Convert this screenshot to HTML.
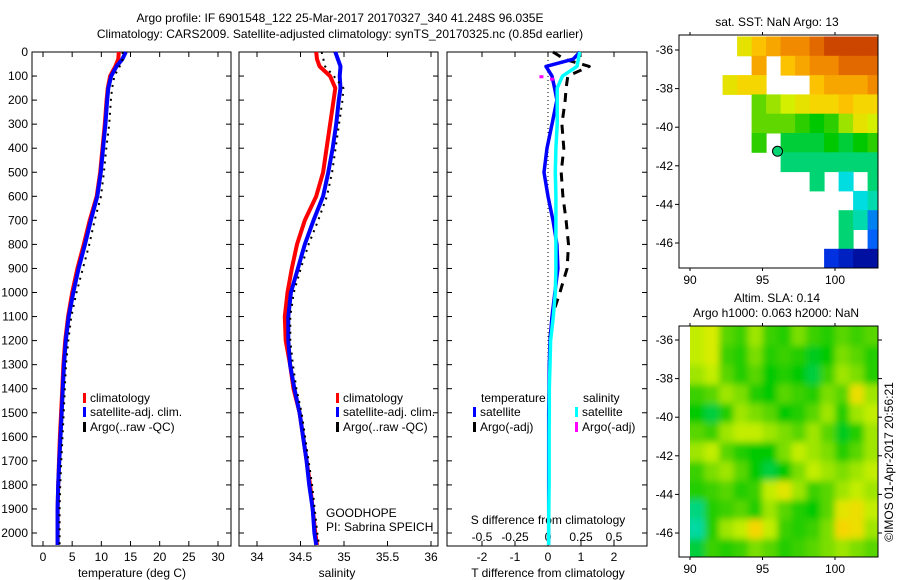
<!DOCTYPE html>
<html><head><meta charset="utf-8">
<style>
html,body{margin:0;padding:0;background:#fff;}
svg{display:block;font-family:"Liberation Sans",sans-serif;}
text{font-size:12px;fill:#000;}
</style></head>
<body>
<svg id="fig" width="900" height="580" viewBox="0 0 900 580">
<defs>
<clipPath id="clipSla"><rect x="690" y="326" width="188" height="231"/></clipPath>
<filter id="blur" x="-5%" y="-5%" width="110%" height="110%"><feGaussianBlur stdDeviation="3.5"/></filter>
</defs>
<text x="340" y="22" text-anchor="middle">Argo profile: IF 6901548_122 25-Mar-2017 20170327_340 41.248S 96.035E</text>
<text x="340" y="38" text-anchor="middle">Climatology: CARS2009. Satellite-adjusted climatology: synTS_20170325.nc (0.85d earlier)</text>
<g id="g"></g>
</svg>
<script>
// ---------- data ----------
const depths = [0,30,60,100,150,200,300,400,500,600,700,800,900,1000,1100,1200,1300,1400,1500,1600,1700,1800,1900,2000,2050];
const tempClim = [13.0,12.9,12.4,11.5,11.1,10.9,10.6,10.2,9.8,9.2,8.0,7.0,5.9,5.0,4.3,3.8,3.5,3.3,3.1,2.9,2.75,2.6,2.5,2.5,2.5];
const tempSat  = [14.2,13.6,12.6,11.7,11.2,11.0,10.7,10.3,9.9,9.3,8.2,7.2,6.1,5.2,4.4,3.9,3.6,3.4,3.2,3.0,2.8,2.6,2.5,2.5,2.5];
const tempArgo = [13.3,13.3,12.8,11.9,11.5,11.3,11.0,10.5,10.1,9.6,8.5,7.6,6.5,5.4,4.5,4.0,3.6,3.4,3.2,3.0,2.8,2.6,2.5,2.5,2.5];
const salClim = [34.68,34.69,34.72,34.84,34.90,34.88,34.84,34.80,34.76,34.68,34.55,34.46,34.40,34.35,34.32,34.33,34.38,34.42,34.49,34.53,34.57,34.61,34.64,34.67,34.69];
const salSat  = [34.90,34.93,34.96,34.95,34.96,34.94,34.91,34.87,34.82,34.76,34.65,34.55,34.47,34.39,34.36,34.36,34.38,34.43,34.49,34.53,34.57,34.60,34.64,34.66,34.68];
const salArgo = [34.72,34.74,34.76,34.86,34.97,34.96,34.92,34.88,34.84,34.78,34.68,34.57,34.48,34.40,34.36,34.36,34.39,34.43,34.49,34.53,34.57,34.61,34.64,34.67,34.69];
const tDiffSat  = [0.97,0.76,-0.06,0.12,0.20,0.27,0.12,-0.03,-0.12,0.0,0.15,0.27,0.30,0.21,0.12,0.06,0.04,0.03,0.02,0.02,0.02,0.02,0.02,0.02,0.02];
const tDiffArgo = [0.15,0.50,1.25,0.60,0.55,0.52,0.42,0.48,0.40,0.45,0.55,0.62,0.58,0.36,0.12,0.05,0.04,0.03,0.03,0.03,0.03,0.03,0.03,0.03,0.03];
const sDiffSat  = [0.24,0.23,0.22,0.11,0.07,0.07,0.07,0.06,0.055,0.06,0.06,0.06,0.06,0.055,0.04,0.02,0.015,0.01,0.01,0.008,0.008,0.008,0.006,0.005,0.005];
const sDiffArgoDepths = [105,115];
const sDiffArgo = [-0.05,0.03];
const depthTicks = [0,100,200,300,400,500,600,700,800,900,1000,1100,1200,1300,1400,1500,1600,1700,1800,1900,2000];
const tempTicks = [0,5,10,15,20,25,30];
const salTicks = [34,34.5,35,35.5,36];
const salTickLabels = ["34","34.5","35","35.5","36"];
const tdTicks = [-2,-1,0,1,2];
const sdTicks = [-0.5,-0.25,0,0.25,0.5];
const sdTickLabels = ["-0.5","-0.25","0","0.25","0.5"];
// SST map: rows from lat -35.3 downward (1 deg), cols from lon 89.25 (1 deg)
const sstGrid = [
 [null,null,null,null,17,18,18.5,19,19,19.5,20,20,20,20],
 [null,null,null,null,null,18.5,null,18,18.5,19,19,19.5,19.5,19.5],
 [null,null,null,17,17.5,17.5,null,null,null,18,18.5,18.5,18.5,19],
 [null,null,null,null,null,15.5,16,16.5,17,17.5,17.5,18,17.5,17.5],
 [null,null,null,null,null,15.5,15.5,15.5,15,14.5,15,16,17,16.5],
 [null,null,null,null,null,15,null,14,14,14,14.5,14,14.5,15],
 [null,null,null,null,null,null,null,13.5,13.5,13.5,13.5,13.5,13.5,13.5],
 [null,null,null,null,null,null,null,null,null,13.5,null,12.5,null,13.5],
 [null,null,null,null,null,null,null,null,null,null,null,null,12.5,13],
 [null,null,null,null,null,null,null,null,null,null,null,13.5,13,11],
 [null,null,null,null,null,null,null,null,null,null,null,13.5,null,10.5],
 [null,null,null,null,null,null,null,null,null,null,9.5,9,8.5,8.5]
];
const argoLon = 96.035, argoLat = -41.248, argoSST = 13.5;
// SLA map: rows from lat -35.3 (1 deg), cols from lon 90 (1 deg)
const slaGrid = [
 [0.6,0.65,0.45,0.4,0.55,0.4,0.35,0.5,0.4,0.35,0.45,0.4,0.45],
 [0.6,0.65,0.4,0.35,0.5,0.35,0.4,0.35,0.25,0.3,0.5,0.45,0.35],
 [0.55,0.6,0.45,0.35,0.45,0.3,0.35,0.3,0.2,0.4,0.55,0.5,0.35],
 [0.4,0.45,0.55,0.5,0.35,0.3,0.45,0.4,0.35,0.5,0.45,0.75,0.55],
 [0.3,0.2,0.35,0.55,0.5,0.45,0.3,0.35,0.45,0.55,0.35,0.55,0.6],
 [0.45,0.4,0.55,0.6,0.6,0.55,0.5,0.45,0.55,0.45,0.25,0.35,0.55],
 [0.55,0.6,0.45,0.35,0.3,0.3,0.5,0.6,0.55,0.5,0.35,0.45,0.55],
 [0.4,0.5,0.55,0.45,0.3,0.2,0.3,0.5,0.6,0.55,0.5,0.55,0.6],
 [0.35,0.4,0.45,0.35,0.4,0.6,0.7,0.55,0.4,0.45,0.55,0.6,0.55],
 [0.1,0.35,0.4,0.45,0.35,0.55,0.45,0.35,0.3,0.45,0.7,0.75,0.6],
 [0.05,0.35,0.55,0.6,0.8,0.6,0.4,0.35,0.4,0.5,0.8,0.75,0.55],
 [0.2,0.4,0.35,0.4,0.5,0.45,0.35,0.4,0.45,0.5,0.55,0.5,0.45]
];
const lonTicks = [90,95,100];
const latTicks = [-36,-38,-40,-42,-44,-46];

// ---------- helpers ----------
const NS="http://www.w3.org/2000/svg";
const G=document.getElementById('g');
function mk(tag,attrs,parent){const e=document.createElementNS(NS,tag);for(const k in attrs)e.setAttribute(k,attrs[k]);(parent||G).appendChild(e);return e;}
function txt(x,y,s,anchor,parent){const t=mk('text',{x:x,y:y,'text-anchor':anchor||'middle'},parent);t.textContent=s;return t;}
const Y0=52, Y1=546, DMAX=2054;
const yD = d => Y0 + d*(Y1-Y0)/DMAX;
function lin(d0,d1,r0,r1){return v=>r0+(v-d0)*(r1-r0)/(d1-d0);}
const xT = lin(0,30,43,218);
const xS = lin(34,36,257,431);
const xTD = lin(0,2,548,614);
const xSD = lin(0,0.5,548,614);

function frame(x0,x1,name){
  const r=mk('rect',{x:x0,y:Y0,width:x1-x0,height:Y1-Y0,fill:'none',stroke:'#000','stroke-width':1});
  
  
  depthTicks.forEach(d=>{const y=yD(d);
    mk('line',{x1:x0,x2:x0+5,y1:y,y2:y,stroke:'#000'});
    mk('line',{x1:x1-5,x2:x1,y1:y,y2:y,stroke:'#000'});});
}
function xticks(x0,x1,ticks,fx,labels,ly){
  ticks.forEach((v,i)=>{const x=fx(v);
    mk('line',{x1:x,x2:x,y1:Y1,y2:Y1-5,stroke:'#000'});
    mk('line',{x1:x,x2:x,y1:Y0,y2:Y0+5,stroke:'#000'});
    const t=txt(x,ly,labels?labels[i]:String(v));
    
    });
}
function line(xs,ds,fx,color,w,dash,name){
  const p=xs.map((v,i)=>fx(v).toFixed(1)+','+yD(ds[i]).toFixed(1)).join(' ');
  const a={points:p,fill:'none',stroke:color,'stroke-width':w,'stroke-linejoin':'round'};
  if(dash)a['stroke-dasharray']=dash;
  const e=mk('polyline',a);
  
  
}
function legend(x,y,color,label,name){
  mk('rect',{x:x,y:y-9,width:3,height:10,fill:color});
  const t=txt(x+7,y,label,'start');
  
  
}

// ---------- panel 1 temperature ----------
frame(32,231,'temperature-panel');
depthTicks.forEach(d=>{const t=txt(28,yD(d)+4,String(d),'end');
  
  });
xticks(32,231,tempTicks,xT,null,561);
let t1=txt(132,577,'temperature (deg C)');


line(tempClim,depths,xT,'#f00',4,null,'temp-climatology-line');
line(tempSat,depths,xT,'#00f',4,null,'temp-satellite-line');
line(tempArgo,depths,v=>xT(v)+2,'#000',2,'2,5','temp-argo-line');
legend(83,402,'#f00','climatology','legend-climatology');
legend(83,416,'#00f','satellite-adj. clim.','legend-satellite');
legend(83,431,'#000','Argo(..raw -QC)','legend-argo');

// ---------- panel 2 salinity ----------
frame(239,438,'salinity-panel');
xticks(239,438,salTicks,xS,salTickLabels,561);
let t2=txt(337,577,'salinity');


line(salClim,depths,xS,'#f00',4,null,'sal-climatology-line');
line(salSat,depths,xS,'#00f',4,null,'sal-satellite-line');
line(salArgo,depths,v=>xS(v)+2,'#000',2,'2,5','sal-argo-line');
legend(336,402,'#f00','climatology','legend-climatology-2');
legend(336,416,'#00f','satellite-adj. clim.','legend-satellite-2');
legend(336,431,'#000','Argo(..raw -QC)','legend-argo-2');
let gh=txt(326,517,'GOODHOPE','start');


let pi=txt(326,531,'PI: Sabrina SPEICH','start');



// ---------- panel 3 differences ----------
frame(447,647,'difference-panel');
xticks(447,647,tdTicks,xTD,null,561);
sdTicks.forEach((v,i)=>{const t=txt(xSD(v),541,sdTickLabels[i]);
  
  });
let t3=txt(548,524,'S difference from climatology');


let t4=txt(548,577,'T difference from climatology');


mk('line',{x1:xTD(0),x2:xTD(0),y1:Y0,y2:Y1,stroke:'#000','stroke-dasharray':'1,3'});
line(tDiffArgo,depths,xTD,'#000',3,'9,7','t-diff-argo-line');
line(tDiffSat,depths,xTD,'#00f',3.5,null,'t-diff-satellite-line');
line(sDiffSat,depths,xSD,'#0ff',3.5,null,'s-diff-satellite-line');
sDiffArgo.forEach((v,i)=>{const e=mk('rect',{x:xSD(v)-2,y:yD(sDiffArgoDepths[i])-2,width:4,height:3,fill:'#f0f'});
  
  });
let lt=txt(481,402,'temperature','start');


let ls=txt(583,402,'salinity','start');


legend(473,416,'#00f','satellite','legend-t-satellite');
legend(473,431,'#000','Argo(-adj)','legend-t-argo');
legend(575,416,'#0ff','satellite','legend-s-satellite');
legend(575,431,'#f0f','Argo(-adj)','legend-s-argo');

// ---------- colormap ----------
const STOPS=[[0,[0,0,127]],[0.15,[0,64,255]],[0.35,[0,224,224]],[0.5,[0,200,0]],[0.56,[70,210,0]],[0.65,[210,240,0]],[0.75,[255,208,0]],[0.86,[240,128,0]],[1,[160,0,0]]];
function cmap(t){t=Math.max(0,Math.min(1,t));
  for(let i=1;i<STOPS.length;i++){if(t<=STOPS[i][0]){const a=STOPS[i-1],b=STOPS[i],f=(t-a[0])/(b[0]-a[0]);
    const c=a[1].map((v,k)=>Math.round(v+(b[1][k]-v)*f));return 'rgb('+c.join(',')+')';}}
  return 'rgb(160,0,0)';}

// ---------- map 1 SST ----------
const mx=lin(90,100,690,835);
const my1=lin(-36,-46,50,243);
const my2=lin(-36,-46,340,533);
function mapFrame(y0,y1,ylat,name,rightTicks){
  const r=mk('rect',{x:679,y:y0,width:199,height:y1-y0,fill:'none',stroke:'#000'});
  
  
  lonTicks.forEach(v=>{const x=mx(v);
    mk('line',{x1:x,x2:x,y1:y1,y2:y1+3,stroke:'#000'});
    mk('line',{x1:x,x2:x,y1:y0,y2:y0-3,stroke:'#000'});
    const t=txt(x,y1+16,String(v));
    
    });
  latTicks.forEach(v=>{const y=ylat(v);
    mk('line',{x1:679,x2:675,y1:y,y2:y,stroke:'#000'});
    if(rightTicks)mk('line',{x1:878,x2:882,y1:y,y2:y,stroke:'#000'});
    const t=txt(673,y+4,String(v),'end');
    
    });
}
const sstG=mk('g',{});


sstGrid.forEach((row,i)=>row.forEach((v,j)=>{if(v===null)return;
  const x0=mx(89.25+j),x1=Math.min(mx(90.25+j),878);
  const ya=my1(-35.3-i),yb=Math.min(my1(-36.3-i),268);
  const c=mk('rect',{x:x0.toFixed(1),y:ya.toFixed(1),width:(x1-x0+0.5).toFixed(1),height:(yb-ya+0.5).toFixed(1),fill:cmap((v-8)/13)},sstG);
  
  }));
const dot=mk('circle',{cx:mx(argoLon),cy:my1(argoLat),r:5,fill:cmap((argoSST-8)/13),stroke:'#000','stroke-width':1});


mapFrame(35,268,my1,'sst-map',false);
let mt=txt(777,26,'sat. SST: NaN Argo: 13');



// ---------- map 2 SLA ----------
const slaG=mk('g',{'clip-path':'url(#clipSla)'});
const slaInner=mk('g',{filter:'url(#blur)'},slaG);


slaGrid.forEach((row,i)=>row.forEach((v,j)=>{
  const x0=mx(90+j)-(j===0?8:0),x1=mx(91+j)+(j===row.length-1?10:0);
  const ya=my2(-35.3-i)-(i===0?10:0),yb=my2(-36.3-i)+(i===slaGrid.length-1?10:0);
  const c=mk('rect',{x:x0.toFixed(1),y:ya.toFixed(1),width:(x1-x0+0.5).toFixed(1),height:(yb-ya+0.5).toFixed(1),fill:cmap(0.37+v*0.45)},slaInner);
  
  }));
mapFrame(326,557,my2,'sla-map',true);
let s1=txt(777,302,'Altim. SLA: 0.14');


let s2=txt(776,317,'Argo h1000: 0.063 h2000: NaN');


let cr=txt(0,0,'©IMOS 01-Apr-2017 20:56:21');
cr.setAttribute('transform','translate(893,462) rotate(-90)');


</script>
</body></html>
